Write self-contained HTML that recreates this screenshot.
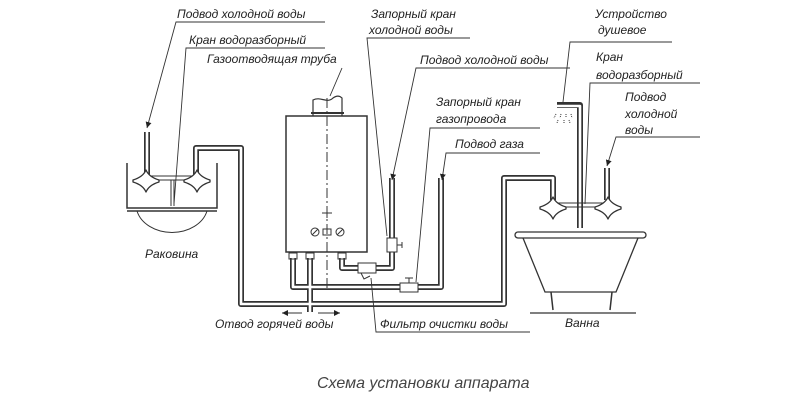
<!DOCTYPE html>
<html><head><meta charset="utf-8"><style>
html,body{margin:0;padding:0;background:#fff;}
svg{display:block}
text{font-family:"Liberation Sans","DejaVu Sans",sans-serif;font-style:italic;font-size:12px;fill:#222}
</style></head><body>
<svg width="800" height="413" viewBox="0 0 800 413" xmlns="http://www.w3.org/2000/svg">
<defs>
<marker id="ar" markerWidth="7" markerHeight="6" refX="6" refY="3" orient="auto" markerUnits="userSpaceOnUse"><path d="M0,0 L6,3 L0,6 Z" fill="#222"/></marker>
<path id="fc" d="M0,-11 Q3,-4 13,-1 Q13,1 13,1 Q3,4 0,11 Q-3,4 -13,1 Q-13,-1 -13,-1 Q-3,-4 0,-11 Z" fill="#fff" stroke="#333" stroke-width="1.3" stroke-linejoin="round"/>
</defs>
<g fill="none" stroke="#333" stroke-width="1">
<g stroke-width="6" stroke="#333" stroke-linejoin="round">
<path d="M196,175 V148 H241 V304 H504 V178 H553 V200"/>
<path d="M147,132 V175"/>
<path d="M293,258 V287 H441 V178"/>
<path d="M310,258 V312"/>
<path d="M342,258 V268 H392 V178"/>
<path d="M580,228 V105 H557"/>
<path d="M607,168 V200"/>
</g>
<g stroke-width="2.6" stroke="#fff" stroke-linejoin="round">
<path d="M196,175 V148 H241 V304 H504 V178 H553 V200"/>
<path d="M147,132 V175"/>
<path d="M293,258 V287 H441 V178"/>
<path d="M310,258 V313"/>
<path d="M342,258 V268 H392 V178"/>
<path d="M580,229 V106 H556"/>
<path d="M607,168 V200"/>
</g>
<path d="M127,163 V208 H217 V163" stroke-width="1.5"/>
<path d="M127,211 H217" stroke-width="1.5"/>
<path d="M137,211 A36,28 0 0 0 207,211" />
<path d="M150,176 H193 M150,180 H193" />
<path d="M171,180 V206 M174,180 V206"/>
<use href="#fc" x="146" y="181"/>
<use href="#fc" x="197" y="181"/>
<rect x="286" y="116" width="81" height="136" stroke-width="1.5"/>
<path d="M313,116 V100 c8,-4 14,4 20,-2 c4,-3 7,-2 9,0 V116" stroke-width="1.2"/>
<path d="M311,113 H344" stroke-width="2"/>
<path d="M327,98 V290" stroke-dasharray="10,3,2,3"/>
<path d="M322,213 H332 M327,208 V218"/>
<circle cx="315" cy="232" r="4"/><circle cx="340" cy="232" r="4"/>
<rect x="323" y="229" width="8" height="6"/>
<path d="M312,235 L318,229 M337,235 L343,229"/>
<rect x="289" y="253" width="8" height="6"/><rect x="306" y="253" width="8" height="6"/><rect x="338" y="253" width="8" height="6"/>
<rect x="387" y="238" width="10" height="14" fill="#fff"/>
<path d="M397,245 H402 M402,242 V248"/>
<rect x="358" y="263" width="18" height="10" fill="#fff"/>
<path d="M361,273 l3,6 l6,-3"/>
<rect x="400" y="283" width="18" height="9" fill="#fff"/>
<path d="M409,283 V278 M405,278 H413"/>
<path d="M556,114 l-2,4 M561,114 l-1,4 M566,114 l0,4 M571,114 l1,4 M558,120 l-1,3 M564,120 l0,3 M569,120 l1,3" stroke-dasharray="1,1"/>
<path d="M556,203 H604 M556,207 H604"/>
<use href="#fc" x="553" y="208"/>
<use href="#fc" x="608" y="208"/>
<rect x="515" y="232" width="131" height="6" rx="3" stroke-width="1.3"/>
<path d="M523,238 L545,292 H616 L638,238" stroke-width="1.3"/>
<path d="M551,292 L553,310 M612,292 L610,310" stroke-width="1.5"/>
<path d="M530,313 H636" stroke-width="1.3"/>
<path d="M302,313 H282" marker-end="url(#ar)"/>
<path d="M318,313 H340" marker-end="url(#ar)"/>
<g stroke-width="0.9">
<path d="M325,22 H176 L147,128" marker-end="url(#ar)"/>
<path d="M325,48 H186 L174,204"/>
<path d="M342,68 L330,96"/>
<path d="M470,38 H367 L387,236"/>
<path d="M570,68 H416 L392,180" marker-end="url(#ar)"/>
<path d="M540,128 H430 L416,282"/>
<path d="M540,153 H446 L442,180" marker-end="url(#ar)"/>
<path d="M530,332 H376 L371,278"/>
<path d="M672,42 H570 L563,102"/>
<path d="M700,83 H590 L585,204"/>
<path d="M700,137 H616 L607,166" marker-end="url(#ar)"/>
</g>
</g>
<text x="177" y="18">Подвод холодной воды</text>
<text x="189" y="44">Кран водоразборный</text>
<text x="207" y="63">Газоотводящая труба</text>
<text x="371" y="18">Запорный кран</text>
<text x="369" y="34">холодной воды</text>
<text x="420" y="64">Подвод холодной воды</text>
<text x="436" y="106">Запорный кран</text>
<text x="436" y="123">газопровода</text>
<text x="455" y="148">Подвод газа</text>
<text x="595" y="18">Устройство</text>
<text x="598" y="34">душевое</text>
<text x="596" y="61">Кран</text>
<text x="596" y="79">водоразборный</text>
<text x="625" y="101">Подвод</text>
<text x="625" y="118">холодной</text>
<text x="625" y="134">воды</text>
<text x="145" y="258">Раковина</text>
<text x="215" y="328">Отвод горячей воды</text>
<text x="380" y="328">Фильтр очистки воды</text>
<text x="565" y="327">Ванна</text>
<text x="317" y="388" style="font-size:16px;fill:#444">Схема установки аппарата</text>
</svg>
</body></html>
